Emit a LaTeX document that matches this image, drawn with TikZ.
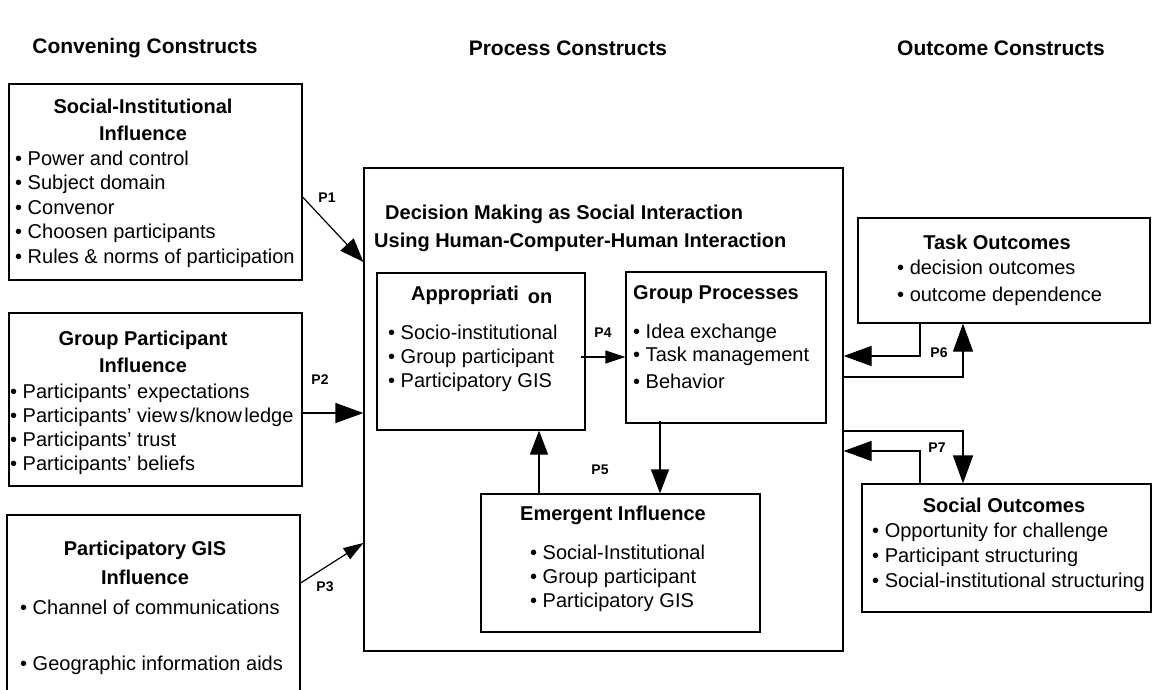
\documentclass[tikz,border=0pt]{standalone}
\usepackage{fontspec}
\setmainfont{Liberation Sans}
\usetikzlibrary{arrows.meta}

\begin{document}
\begin{tikzpicture}[x=1pt, y=-1pt,
    box/.style={draw, line width=1.2pt, rectangle, inner sep=0pt},
    head/.style={font=\fontsize{21}{25}\selectfont\bfseries},
    title/.style={font=\fontsize{20}{27}\selectfont\bfseries, align=center},
    item/.style={font=\fontsize{20}{24}\selectfont, anchor=base west, inner sep=0pt},
    plabel/.style={font=\fontsize{14}{16}\selectfont\bfseries},
    arr/.style={line width=1.2pt, -{Triangle[length=24pt, width=18pt]}},
    bigarr/.style={line width=1.2pt, -{Triangle[length=28pt, width=20pt]}},
    smallarr/.style={line width=1.2pt, -{Triangle[length=20pt, width=13pt]}}]

  \useasboundingbox (0,0) rectangle (1153,690);

  % Column headings
  \node[head] (hconv) at (145,48) {Convening Constructs};
  \node[head] (hproc) at (568,48) {Process Constructs};
  \node[head] (hout)  at (1001,48) {Outcome Constructs};

  % Convening boxes
  \node[box, minimum width=293pt, minimum height=196pt] (si)  at (155.5,182) {};
  \node[box, minimum width=293pt, minimum height=173pt] (gp)  at (155.5,399.5) {};
  \node[box, minimum width=293pt, minimum height=185pt] (gis) at (153.5,607.5) {};

  \node[title] (sititle) at (143,119.5) {Social-Institutional\\Influence};
  \foreach \txt [count=\i from 0] in {Power and control, Subject domain, Convenor,
      Choosen participants, Rules \& norms of participation}
    \node[item] (siitem\i) at (15, 165+24.5*\i) {• \txt};

  \node[title] (gptitle) at (143,351.5) {Group Participant\\Influence};
  \foreach \txt [count=\i from 0] in {Participants’ expectations,
      {Participants’ view\hspace{2.5pt}s/know\hspace{2.5pt}ledge},
      Participants’ trust, Participants’ beliefs}
    \node[item] (gpitem\i) at (10, 398+24.3*\i) {• \txt};

  \node[title] (gistitle) at (145,562.5) {Participatory GIS\\[2pt]Influence};
  \node[item] (gisitem0) at (20,614) {• Channel of communications};
  \node[item] (gisitem1) at (20,670) {• Geographic information aids};

  % Process box
  \node[box, minimum width=479pt, minimum height=483pt] (main) at (603.5,409.5) {};
  \node[item, font=\fontsize{20}{24}\selectfont\bfseries] (mtitle0) at (385,219) {Decision Making as Social Interaction};
  \node[item, font=\fontsize{20}{24}\selectfont\bfseries] (mtitle1) at (374,247) {Using Human-Computer-Human Interaction};

  \node[box, minimum width=208pt, minimum height=157pt] (app) at (481,351.5) {};
  \node[item, font=\fontsize{20}{24}\selectfont\bfseries] (apptitle) at (411,300) {Appropriati\hspace{9pt}\raisebox{-3pt}{on}};
  \foreach \txt [count=\i from 0] in {Socio-institutional, Group participant, Participatory GIS}
    \node[item] (appitem\i) at (388, 339+24*\i) {• \txt};

  \node[box, minimum width=200pt, minimum height=151pt] (grp) at (726,347.5) {};
  \node[item, font=\fontsize{20}{24}\selectfont\bfseries] (grptitle) at (633,299) {Group Processes};
  \foreach \txt/\y [count=\i from 0] in {Idea exchange/338, Task management/361, Behavior/388}
    \node[item] (grpitem\i) at (633,\y) {• \txt};

  \node[box, minimum width=279pt, minimum height=138pt] (emg) at (620.5,563) {};
  \node[title, anchor=base] (emgtitle) at (613,520) {Emergent Influence};
  \foreach \txt [count=\i from 0] in {Social-Institutional, Group participant, Participatory GIS}
    \node[item] (emgitem\i) at (530, 559+24*\i) {• \txt};

  % Outcome boxes
  \node[box, minimum width=292pt, minimum height=105pt] (task) at (1004,270.5) {};
  \node[title, anchor=base] (tasktitle) at (997,249) {Task Outcomes};
  \node[item] (taskitem0) at (897,274) {• decision outcomes};
  \node[item] (taskitem1) at (897,301) {• outcome dependence};

  \node[box, minimum width=289pt, minimum height=128pt] (soc) at (1006.5,548) {};
  \node[title, anchor=base] (soctitle) at (1004,512) {Social Outcomes};
  \foreach \txt [count=\i from 0] in {Opportunity for challenge, Participant structuring,
      Social-institutional structuring}
    \node[item] (socitem\i) at (872, 537+25*\i) {• \txt};

  % Connector levels
  \coordinate (y197) at (0,197);
  \coordinate (y262) at (0,262);
  \coordinate (y413) at (0,413);
  \coordinate (y583) at (0,583);
  \coordinate (y543) at (0,543);
  \coordinate (y357) at (0,357);
  \coordinate (y356) at (0,356);
  \coordinate (y377) at (0,377);
  \coordinate (y431) at (0,431);
  \coordinate (y451) at (0,451);
  \coordinate (x539) at (539,0);
  \coordinate (x660) at (660,0);
  \coordinate (x920) at (920,0);
  \coordinate (x963) at (963,0);

  % P1 - P3
  \draw[arr] (si.east |- y197) -- (main.west |- y262);
  \draw[bigarr] (gp.east |- y413) -- (main.west |- y413);
  \draw[smallarr] (gis.east |- y583) -- (main.west |- y543);
  \node[plabel] (lp1) at (327,198) {P1};
  \node[plabel] (lp2) at (320,380) {P2};
  \node[plabel] (lp3) at (325,587) {P3};

  % P4, P5
  \draw[smallarr] ([xshift=-5pt]app.east |- y357) -- (grp.west |- y357);
  \draw[arr] (emg.north -| x539) -- (app.south -| x539);
  \draw[arr] ([yshift=3pt]grp.south -| x660) -- (emg.north -| x660);
  \node[plabel] (lp4) at (603,333) {P4};
  \node[plabel] (lp5) at (600,470) {P5};

  % P6, P7
  \draw[bigarr] (task.south -| x920) |- (main.east |- y356);
  \draw[bigarr] (main.east |- y377) -| (task.south -| x963);
  \draw[bigarr] (main.east |- y431) -| (soc.north -| x963);
  \draw[bigarr] (soc.north -| x920) |- (main.east |- y451);
  \node[plabel] (lp6) at (939,353) {P6};
  \node[plabel] (lp7) at (937,448) {P7};

\end{tikzpicture}
\end{document}
